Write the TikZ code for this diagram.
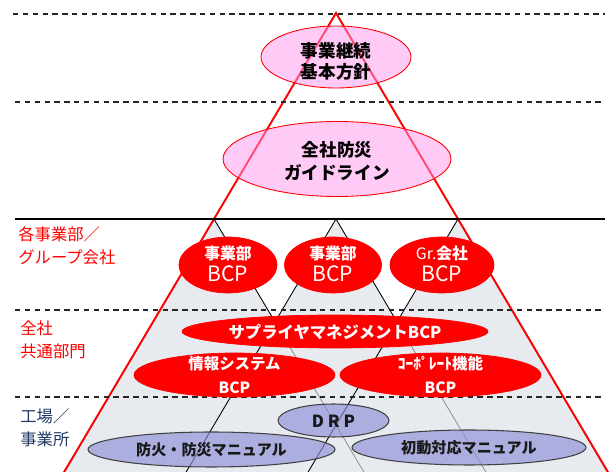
\documentclass[tikz,border=0pt]{standalone}
\usepackage{fontspec}
\setmainfont{Noto Sans CJK JP}
\usetikzlibrary{shapes.geometric}
\definecolor{trifill}{RGB}{231,234,239}
\definecolor{pinkfill}{RGB}{255,150,235}
\definecolor{lavfill}{RGB}{140,142,215}
\definecolor{navytext}{RGB}{32,56,100}
\definecolor{dimline}{RGB}{150,150,150}
\begin{document}
\begin{tikzpicture}[x=0.02cm, y=-0.02cm,
  dashline/.style={black!85, line width=0.8pt, dash pattern=on 3.1pt off 2.5pt},
  pinkell/.style={ellipse, draw=red, line width=0.5pt, fill=pinkfill, fill opacity=0.5, inner sep=0pt},
  redell/.style={ellipse, draw=red, fill=red, inner sep=0pt},
  lavell/.style={ellipse, draw=black!75, line width=0.6pt, fill=lavfill, fill opacity=0.65, inner sep=0pt},
  lab/.style={anchor=west, align=left, inner sep=0pt, font=\fontsize{9.3}{13}\selectfont},
  btext/.style={align=center, inner sep=0pt, font=\fontsize{10}{12.5}\selectfont\bfseries}]
\useasboundingbox (0,0) rectangle (613,472);

% triangles
\coordinate (apex) at (336,13);
\coordinate (ta) at (214,219);
\coordinate (tb) at (336,219);
\coordinate (tc) at (458,219);
\coordinate (xab) at (275,322);
\coordinate (xbc) at (397,322);
\begin{scope}
\clip (0,0) rectangle (613,472);
\fill[trifill] (ta) -- (59.4,480) -- (612.6,480) -- (tc) -- (xbc) -- (tb) -- (xab) -- cycle;
\draw[line width=0.5pt] (ta) -- (59.4,480);
\draw[line width=0.5pt] (ta) -- (xab);
\draw[dimline, line width=0.5pt] (xab) -- (368.6,480);
\draw[line width=0.5pt] (tb) -- (181.4,480);
\draw[line width=0.5pt] (tb) -- (xbc);
\draw[dimline, line width=0.5pt] (xbc) -- (490.6,480);
\draw[line width=0.5pt] (tc) -- (303.4,480);
\draw[line width=0.5pt] (tc) -- (612.6,480);
\draw[red, line width=1.1pt] (59.4,480) -- (apex) -- (612.6,480);
\end{scope}

% levels
\draw[dashline] (13,14) -- (605,14);
\draw[dashline] (15,102) -- (605,102);
\draw[line width=1.6pt] (15,219) -- (605,219);
\draw[dashline] (15,310) -- (605,310);
\draw[dashline] (15,397) -- (605,397);

\node[lab, text=red] (lgrp) at (18,246) {各事業部／\\グループ会社};
\node[lab, text=red] (lcom) at (20,340) {全社\\共通部門};
\node[lab, text=navytext] (lsite) at (20,427.5) {工場／\\事業所};

% policy
\node[pinkell, minimum width=3cm, minimum height=1.24cm] (pol) at (336,57) {};
\node[btext, font=\fontsize{10}{12}\selectfont\bfseries] (polt) at (336,61) {事業継続\\基本方針};
\node[pinkell, minimum width=4.56cm, minimum height=1.5cm] (gl) at (337,159) {};
\node[btext, font=\fontsize{10}{13}\selectfont\bfseries] (glt) at (337,161) {全社防災\\ガイドライン};

% business BCPs
\node[redell, minimum width=1.96cm, minimum height=1.12cm] (bu1) at (228,265) {};
\node[redell, minimum width=1.94cm, minimum height=1.12cm] (bu2) at (333,265) {};
\node[redell, minimum width=2.08cm, minimum height=1.12cm] (grp) at (442,265) {};
\node[btext, text=white, font=\fontsize{9}{12.5}\selectfont\bfseries] (bu1t) at (228,264) {事業部\\{\mdseries\fontsize{12}{12.5}\selectfont BCP}};
\node[btext, text=white, font=\fontsize{9}{12.5}\selectfont\bfseries] (bu2t) at (333,264) {事業部\\{\mdseries\fontsize{12}{12.5}\selectfont BCP}};
\node[btext, text=white, font=\fontsize{9}{12.5}\selectfont\bfseries] (grpt) at (442,264) {{\mdseries Gr.}会社\\{\mdseries\fontsize{12}{12.5}\selectfont BCP}};

% common functions
\node[redell, minimum width=6.12cm, minimum height=0.66cm] (scm) at (335,331.5) {};
\node[btext, text=white, font=\fontsize{9.3}{12}\selectfont\bfseries] (scmt) at (335,332) {サプライヤマネジメントBCP};
\node[redell, minimum width=4.02cm, minimum height=0.88cm] (sys) at (234.5,375) {};
\node[redell, minimum width=4.02cm, minimum height=0.88cm] (corp) at (440.5,375) {};
\node[btext, text=white, font=\fontsize{8.8}{13.5}\selectfont\bfseries] (syst) at (234.5,375) {情報システム\\BCP};
\node[btext, text=white, font=\fontsize{8.8}{13.5}\selectfont\bfseries] (corpt) at (440.5,375) {ｺｰﾎﾟﾚｰﾄ機能\\BCP};

% sites
\node[lavell, minimum width=2.22cm, minimum height=0.66cm] (drp) at (333.5,420.5) {};
\node[btext, text=black!90, font=\fontsize{9.5}{12}\selectfont\bfseries] (drpt) at (333.5,421) {D R P};
\node[lavell, minimum width=4.94cm, minimum height=0.7cm] (fire) at (211.5,449.5) {};
\node[btext, text=black!90, font=\fontsize{8.6}{12}\selectfont\bfseries] (firet) at (211.5,450) {防火・防災マニュアル};
\node[lavell, minimum width=4.68cm, minimum height=0.7cm] (init) at (469,447.5) {};
\node[btext, text=black!90, font=\fontsize{8.6}{12}\selectfont\bfseries] (initt) at (469,448) {初動対応マニュアル};
\end{tikzpicture}
\end{document}
